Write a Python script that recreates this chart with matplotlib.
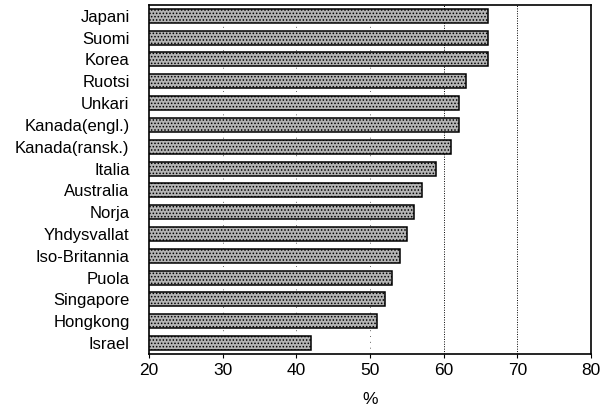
import matplotlib
matplotlib.use('Agg')
import matplotlib.pyplot as plt
import numpy as np

# countries, top to bottom
maat = ['Japani', 'Suomi', 'Korea', 'Ruotsi', 'Unkari', 'Kanada(engl.)',
        'Kanada(ransk.)', 'Italia', 'Australia', 'Norja', 'Yhdysvallat',
        'Iso-Britannia', 'Puola', 'Singapore', 'Hongkong', 'Israel']
arvot = [66, 66, 66, 63, 62, 62, 61, 59, 57, 56, 55, 54, 53, 52, 51, 42]
xticks = [20, 30, 40, 50, 60, 70, 80]

plt.rcParams['font.family'] = ['Liberation Sans', 'DejaVu Sans']
plt.rcParams['hatch.color'] = '#3a3a3a'
plt.rcParams['hatch.linewidth'] = 0.7

fig = plt.figure(figsize=(6.02, 4.12), dpi=100)
ax = fig.add_axes([0.2475, 0.141, 0.7345, 0.847])

y = np.arange(len(maat))
ax.barh(y, np.array(arvot) - 20, left=20, height=0.64, color='#b4b4b4',
        edgecolor='black', linewidth=1.1, hatch='.....', zorder=3)

# faint grid at 30-50, clearer at 60 and 70
for g in xticks[1:-1]:
    if g < 60:
        ax.axvline(g, color='#666666', linestyle=(0, (1, 5)), linewidth=0.7, zorder=1)
    else:
        ax.axvline(g, color='black', linestyle=(0, (1, 1.5)), linewidth=0.7, zorder=1)

ax.set_xlim(20, 80)
ax.set_ylim(15.5, -0.5)
ax.set_yticks(y)
ax.set_yticklabels(maat, fontsize=12)
ax.set_xticks(xticks)
ax.tick_params(axis='y', length=0, pad=14)
ax.tick_params(axis='x', length=3, labelsize=12.5)
ax.set_xlabel('%', fontsize=12.5, labelpad=10)
for s in ax.spines.values():
    s.set_linewidth(1.2)

fig.savefig('out.png', dpi=100)
